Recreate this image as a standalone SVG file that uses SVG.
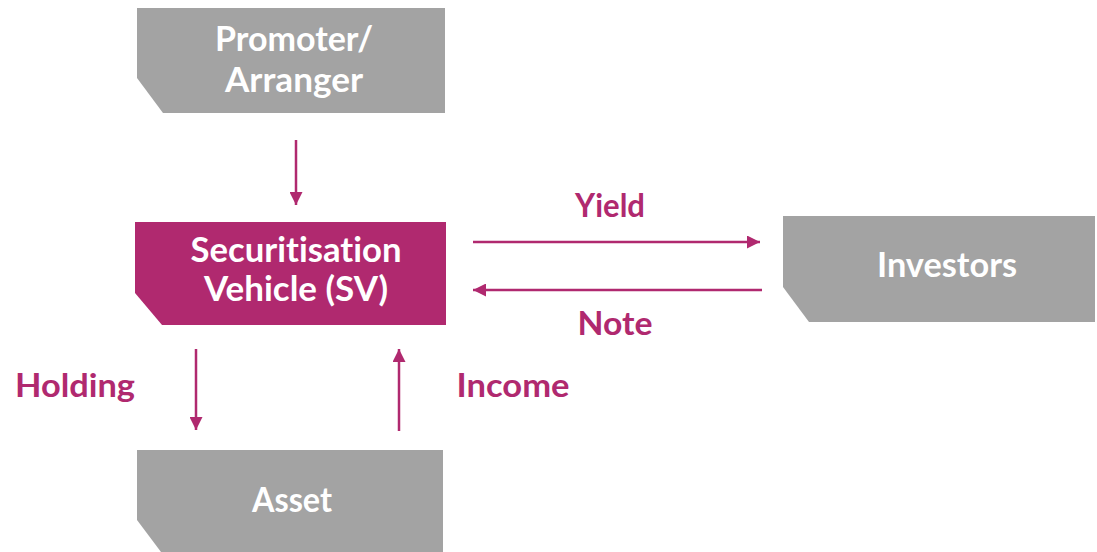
<svg xmlns="http://www.w3.org/2000/svg" width="1097" height="552" viewBox="0 0 1097 552">
  <defs>
    <style>
      .box { fill: #a3a3a3; }
      .sv { fill: #b0296f; }
      .btxt { font-family: Lato, "Open Sans", "Liberation Sans", sans-serif; font-weight: bold; font-size: 34px; fill: #ffffff; text-anchor: middle; font-variant-ligatures: none; }
      .lbl { font-family: Lato, "Open Sans", "Liberation Sans", sans-serif; font-weight: bold; font-size: 32px; fill: #b0296f; text-anchor: middle; font-variant-ligatures: none; }
      .flow { stroke: #b0296f; stroke-width: 2.5; fill: none; marker-end: url(#head); }
    </style>
    <marker id="head" viewBox="0 0 10 10" refX="10" refY="5" markerUnits="userSpaceOnUse" markerWidth="15" markerHeight="13" orient="auto">
      <path d="M0,0 L10,5 L0,10 Z" fill="#b0296f"/>
    </marker>
  </defs>

  <rect width="1097" height="552" fill="#ffffff"/>

  <g id="promoter">
    <path class="box" d="M137,8 H445 V113 H163 L137,78 Z"/>
    <text class="btxt" x="294" y="51" textLength="158" lengthAdjust="spacingAndGlyphs">Promoter/</text>
    <text class="btxt" x="294" y="92" textLength="138" lengthAdjust="spacingAndGlyphs">Arranger</text>
  </g>

  <g id="sv">
    <path class="sv" d="M135,222 H446 V325 H162 L135,293 Z"/>
    <text class="btxt" x="296" y="262" textLength="211" lengthAdjust="spacingAndGlyphs">Securitisation</text>
    <text class="btxt" x="296" y="301" textLength="184" lengthAdjust="spacingAndGlyphs">Vehicle (SV)</text>
  </g>

  <g id="investors">
    <path class="box" d="M783,216 H1095 V322 H809 L783,287 Z"/>
    <text class="btxt" x="947" y="277" textLength="140" lengthAdjust="spacingAndGlyphs">Investors</text>
  </g>

  <g id="asset">
    <path class="box" d="M137,450 H443 V556 H164 L137,520 Z"/>
    <text class="btxt" x="292" y="512" textLength="80" lengthAdjust="spacingAndGlyphs">Asset</text>
  </g>

  <g id="connectors">
    <line class="flow" x1="296" y1="140" x2="296" y2="205"/>
    <line class="flow" x1="473" y1="242" x2="760" y2="242"/>
    <line class="flow" x1="762" y1="290" x2="473" y2="290"/>
    <line class="flow" x1="196" y1="349" x2="196" y2="430"/>
    <line class="flow" x1="399" y1="431" x2="399" y2="349"/>
  </g>

  <g id="labels">
    <text class="lbl" x="610" y="217" textLength="70" lengthAdjust="spacingAndGlyphs">Yield</text>
    <text class="lbl" x="615" y="335" textLength="75" lengthAdjust="spacingAndGlyphs">Note</text>
    <text class="lbl" x="75" y="397" textLength="120" lengthAdjust="spacingAndGlyphs">Holding</text>
    <text class="lbl" x="513" y="397" textLength="113" lengthAdjust="spacingAndGlyphs">Income</text>
  </g>
</svg>
